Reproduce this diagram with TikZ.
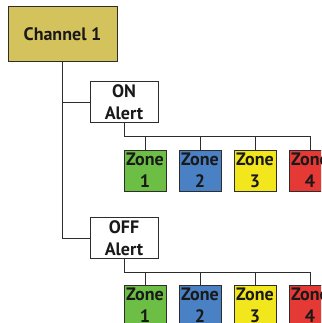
\documentclass[tikz,border=0pt]{standalone}
\usepackage{fontspec}
\setmainfont{PT Sans}
\usetikzlibrary{positioning}

\definecolor{chanfill}{RGB}{212,194,92}
\definecolor{zonegreen}{RGB}{108,190,69}
\definecolor{zoneblue}{RGB}{74,128,196}
\definecolor{zoneyellow}{RGB}{242,230,28}
\definecolor{zonered}{RGB}{229,57,53}
\definecolor{linegray}{RGB}{45,45,45}

\tikzset{
  box/.style={draw=linegray, line width=1pt, rectangle, align=center, inner sep=0pt,
    font=\fontsize{18}{22}\selectfont\bfseries, text=black!90},
  zonebox/.style={box, minimum width=42pt, minimum height=41pt},
  alertbox/.style={box, fill=white, minimum width=68pt, minimum height=41pt},
  wire/.style={draw=linegray, line width=1pt}
}

\begin{document}
\begin{tikzpicture}[x=1pt, y=-1pt]
  \clip (0,0) rectangle (321,323);
  \fill[white] (0,0) rectangle (321,323);

  % Channel
  \node[box, fill=chanfill, minimum width=109pt, minimum height=55pt] (chan) at (62.5,34.5) {Channel 1};

  % Alerts
  \node[alertbox] (on) at (124,102.5) {ON\\Alert};
  \node[alertbox] (off) at (124,238) {OFF\\Alert};

  % Zones for ON
  \node[zonebox, fill=zonegreen] (onz1) at (145,170.5) {Zone\\1};
  \node[zonebox, fill=zoneblue, right=12pt of onz1] (onz2) {Zone\\2};
  \node[zonebox, fill=zoneyellow, right=12pt of onz2] (onz3) {Zone\\3};
  \node[zonebox, fill=zonered, right=12pt of onz3] (onz4) {Zone\\4};

  % Zones for OFF
  \node[zonebox, fill=zonegreen] (offz1) at (145,305.5) {Zone\\1};
  \node[zonebox, fill=zoneblue, right=12pt of offz1] (offz2) {Zone\\2};
  \node[zonebox, fill=zoneyellow, right=12pt of offz2] (offz3) {Zone\\3};
  \node[zonebox, fill=zonered, right=12pt of offz3] (offz4) {Zone\\4};

  % Trunk
  \draw[wire] (chan.south) -- (chan.south |- off.west) -- (off.west);
  \draw[wire] (chan.south |- on.west) -- (on.west);

  % Buses
  \coordinate (onbus) at (124,136);
  \coordinate (offbus) at (124,272);
  \draw[wire] (on.south) -- (onbus) -| (onz4.north);
  \draw[wire] (onbus) -| (onz1.north);
  \draw[wire] (onbus) -| (onz2.north);
  \draw[wire] (onbus) -| (onz3.north);
  \draw[wire] (off.south) -- (offbus) -| (offz4.north);
  \draw[wire] (offbus) -| (offz1.north);
  \draw[wire] (offbus) -| (offz2.north);
  \draw[wire] (offbus) -| (offz3.north);
\end{tikzpicture}
\end{document}
